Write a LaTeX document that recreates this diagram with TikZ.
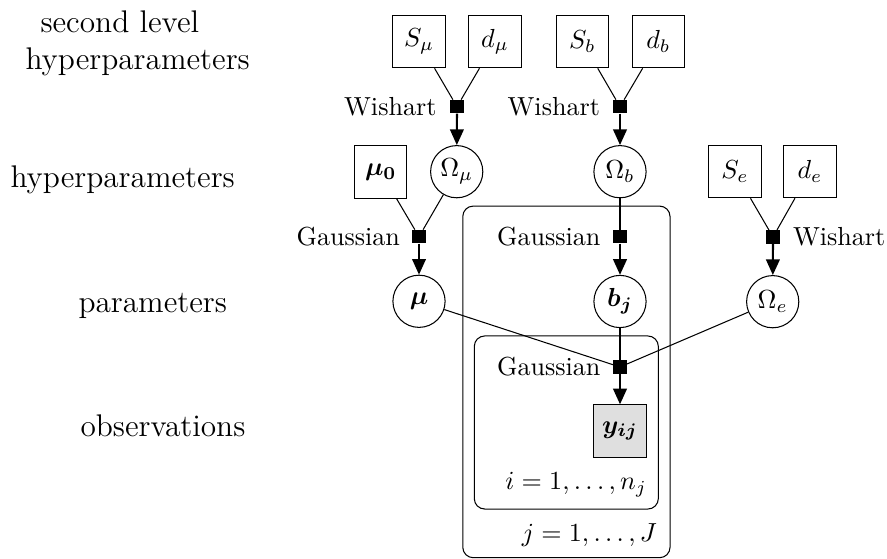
\documentclass[tikz,border=0pt]{standalone}
\usepackage{bm}
\usetikzlibrary{arrows.meta}
\begin{document}
\begin{tikzpicture}[x={(0.3831pt,0)}, y={(0,-0.3831pt)},
  const/.style={draw, rectangle, minimum size=20pt, inner sep=0pt},
  latent/.style={draw, circle, minimum size=20pt, inner sep=1pt},
  obs/.style={draw, rectangle, minimum size=20pt, inner sep=0pt, fill=gray!25},
  factor/.style={rectangle, fill=black, minimum size=5pt, inner sep=0pt},
  flabel/.style={inner sep=0pt},
  levellabel/.style={font=\large, inner sep=0pt, anchor=base west},
  plate/.style={draw, rectangle, rounded corners=4pt, inner sep=0pt},
  caption/.style={inner sep=0pt, anchor=base east},
  arr/.style={line width=0.8pt, -{Triangle[length=6pt,width=5.2pt]}},
]
\useasboundingbox (0,0) rectangle (887,559);

% plates
\node[plate, minimum width=79.4pt, minimum height=134.7pt] (outer) at (566.4,381.9) {};
\node[plate, minimum width=70.5pt, minimum height=66.3pt] (inner) at (566.3,422.5) {};

% level labels
\node[levellabel] (l1) at (40,33) {second level};
\node[levellabel] (l2) at (25,70) {hyperparameters};
\node[levellabel] (l3) at (10,188) {hyperparameters};
\node[levellabel] (l4) at (78,313) {parameters};
\node[levellabel] (l5) at (80,437) {observations};

% second level hyperparameters
\node[const] (Smu) at (419,41.7) {$S_\mu$};
\node[const] (dmu) at (495,41.7) {$d_\mu$};
\node[const] (Sb) at (582.3,41.7) {$S_b$};
\node[const] (db) at (658.3,41.7) {$d_b$};

% factors, first row
\node[factor] (fmu) at (457,106.7) {};
\node[factor] (fb) at (620,106.7) {};
\node[flabel, anchor=east] (lfmu) at (437,106.7) {Wishart};
\node[flabel, anchor=east] (lfb) at (600.5,106.7) {Wishart};

% hyperparameters
\node[const] (mu0) at (380.8,172) {$\bm{\mu_0}$};
\node[latent] (Omu) at (456.7,171.7) {$\Omega_\mu$};
\node[latent] (Ob) at (620,171.7) {$\Omega_b$};
\node[const] (Se) at (735,171.7) {$S_e$};
\node[const] (de) at (810,171.7) {$d_e$};

% factors, second row
\node[factor] (gmu) at (419,236.7) {};
\node[factor] (gb) at (620,236.7) {};
\node[factor] (we) at (773,237) {};
\node[flabel, anchor=east] (lgmu) at (400.5,236.7) {Gaussian};
\node[flabel, anchor=east] (lgb) at (601,236.7) {Gaussian};
\node[flabel, anchor=west] (lwe) at (792.5,237) {Wishart};

% parameters
\node[latent] (mu) at (419,301.3) {$\bm{\mu}$};
\node[latent] (bj) at (620,301.5) {$\bm{b_j}$};
\node[latent] (Oe) at (772.7,301.7) {$\Omega_e$};

% observation factor and node
\node[factor] (gy) at (620,367) {};
\node[flabel, anchor=east] (lgy) at (601,367) {Gaussian};
\node[obs] (y) at (620,431) {$\bm{y_{ij}}$};

% plate captions
\node[caption] (ci) at (647.5,489.5) {$i=1,\ldots,n_j$};
\node[caption] (cj) at (657.5,541.7) {$j=1,\ldots,J$};

% edges
\draw (Smu) -- (fmu);
\draw (dmu) -- (fmu);
\draw[arr] (fmu) -- (Omu);
\draw (Sb) -- (fb);
\draw (db) -- (fb);
\draw[arr] (fb) -- (Ob);
\draw (mu0) -- (gmu);
\draw (Omu) -- (gmu);
\draw[arr] (gmu) -- (mu);
\draw (Ob) -- (gb);
\draw[arr] (gb) -- (bj);
\draw (Se) -- (we);
\draw (de) -- (we);
\draw[arr] (we) -- (Oe);
\draw (mu) -- (gy);
\draw (bj) -- (gy);
\draw (Oe) -- (gy);
\draw[arr] (gy) -- (y);
\end{tikzpicture}
\end{document}
